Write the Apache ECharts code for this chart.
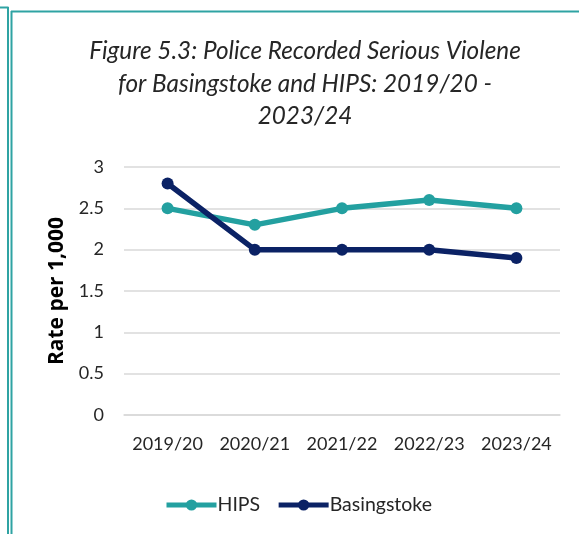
<!DOCTYPE html>
<html><head><meta charset="utf-8">
<script src="https://cdn.jsdelivr.net/npm/echarts@6/dist/echarts.min.js"></script>
<style>html,body{margin:0;padding:0;background:#fff}#c{width:579px;height:534px}</style>
</head><body><div id="c"></div>
<script>
const categories = ['2019/20','2020/21','2021/22','2022/23','2023/24'];
const hips = [2.5, 2.3, 2.5, 2.6, 2.5];
const basingstoke = [2.8, 2.0, 2.0, 2.0, 1.9];
const titleText = 'Figure 5.3: Police Recorded Serious Violene\nfor Basingstoke and HIPS: 2019/20 -\n2023/24';
const font = 'Lato';
const teal = '#23A0A0';
const navy = '#0B2265';
const border = '#2FA3A3';

const chart = echarts.init(document.getElementById('c'));
chart.setOption({
  animation: false,
  title: {
    text: titleText, left: 300, textAlign: 'center', top: 30,
    textStyle: {fontFamily: font, fontStyle: 'italic', fontWeight: 'normal', fontSize: 24.3, lineHeight: 32.5, color: '#262626'}
  },
  graphic: [
    {type:'line', shape:{x1:0,y1:7.5,x2:8.5,y2:7.5}, style:{stroke:border,lineWidth:2}},
    {type:'line', shape:{x1:8,y1:7,x2:8,y2:534}, style:{stroke:border,lineWidth:2}},
    {type:'line', shape:{x1:11,y1:11.5,x2:579,y2:11.5}, style:{stroke:border,lineWidth:2}},
    {type:'line', shape:{x1:11.5,y1:11,x2:11.5,y2:534}, style:{stroke:border,lineWidth:2}}
  ],
  legend: {
    data: ['HIPS','Basingstoke'], left: 159, top: 490, itemWidth: 50, itemHeight: 14, itemGap: 16,
    lineStyle: {width: 5},
    textStyle: {fontFamily: font, fontSize: 19.5, color: '#262626', padding:[0,0,0,-4]}
  },
  grid: {left: 124, right: 19, top: 167, bottom: 119},
  xAxis: {
    type: 'category', data: categories, boundaryGap: true,
    axisLine: {lineStyle: {color: '#d9d9d9', width: 1.5}}, axisTick: {show: false},
    axisLabel: {fontFamily: font, fontSize: 18, color: '#262626', margin: 20, interval: 0, hideOverlap: false}
  },
  yAxis: {
    type: 'value', min: 0, max: 3, interval: 0.5,
    name: 'Rate per 1,000', nameLocation: 'middle', nameRotate: 90, nameGap: 56,
    nameTextStyle: {fontFamily: 'Open Sans', fontWeight: 'bold', fontSize: 21, color: '#000'},
    axisLine: {show: false}, axisTick: {show: false},
    axisLabel: {fontFamily: font, fontSize: 18, color: '#262626', margin: 20},
    splitLine: {lineStyle: {color: '#d9d9d9', width: 1.5}}
  },
  series: [
    {name: 'HIPS', type: 'line', data: hips, color: teal, symbol: 'circle', symbolSize: 12, lineStyle: {width: 5.5}},
    {name: 'Basingstoke', type: 'line', data: basingstoke, color: navy, symbol: 'circle', symbolSize: 12, lineStyle: {width: 5.5}}
  ]
});
</script></body></html>
